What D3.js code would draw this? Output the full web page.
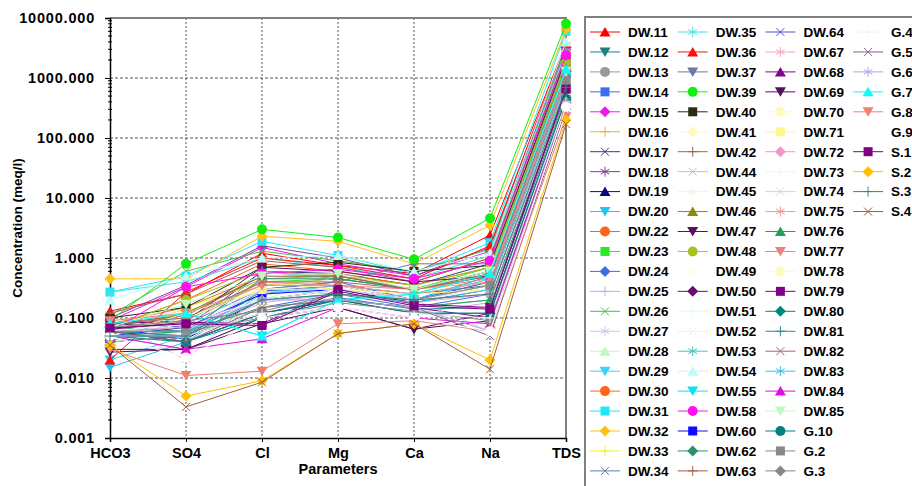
<!DOCTYPE html>
<html>
<head>
<meta charset="utf-8">
<script src="https://cdn.jsdelivr.net/npm/d3@7"></script>
<style>
body { margin: 0; background: #fff; }
text { font-family: "Liberation Sans", Arial, sans-serif; font-weight: bold; fill: #000; }
</style>
</head>
<body>
<div id="chart"></div>
<script>
var params = ["HCO3", "SO4", "Cl", "Mg", "Ca", "Na", "TDS"];

var names = ["DW.11","DW.12","DW.13","DW.14","DW.15","DW.16","DW.17","DW.18","DW.19","DW.20",
  "DW.22","DW.23","DW.24","DW.25","DW.26","DW.27","DW.28","DW.29","DW.30","DW.31",
  "DW.32","DW.33","DW.34","DW.35","DW.36","DW.37","DW.39","DW.40","DW.41","DW.42",
  "DW.44","DW.45","DW.46","DW.47","DW.48","DW.49","DW.50","DW.51","DW.52","DW.53",
  "DW.54","DW.55","DW.58","DW.60","DW.62","DW.63","DW.64","DW.67","DW.68","DW.69",
  "DW.70","DW.71","DW.72","DW.73","DW.74","DW.75","DW.76","DW.77","DW.78","DW.79",
  "DW.80","DW.81","DW.82","DW.83","DW.84","DW.85","G.10","G.2","G.3","G.4",
  "G.5","G.6","G.7","G.8","G.9","S.1","S.2","S.3","S.4"];

var colors = ["#ff0000","#1f7f7f","#999999","#3a6cf4","#e81ee8","#e8b048","#3a3a7a","#8a3a9a","#0a0a80","#1ec8f0",
  "#ff6418","#28e828","#3c6ee0","#c8a8e0","#48c048","#c8c8e8","#c0f8c0","#3cd4f4","#ff6418","#20e8f8",
  "#ffc018","#f0f040","#5a82a8","#48e0e0","#ff1010","#6878a8","#10f010","#2c2c10","#fff8c0","#a06454",
  "#c0c0c0","#f4f4dc","#8a8a10","#58105e","#a8c020","#fffff0","#64106a","#e0fafa","#e0f4f4","#40c4c4",
  "#c0fafa","#10e0f4","#ff10f0","#0a0aff","#2e9070","#a06048","#5050c8","#f0a8c8","#800090","#50105a",
  "#fff8c0","#fff888","#f098c8","#e4f8f8","#d0d0f0","#f09898","#20a060","#f08080","#fffac0","#800088",
  "#008880","#308888","#b06068","#40c0e8","#e010e0","#c0f8c0","#008080","#888888","#888888","#f0f4fc",
  "#886088","#a8a8e8","#10f8f8","#f08070","#ffffff","#800080","#ffc000","#408080","#a06040"];

// marker shapes repeat in this order through the series
var shapeCycle = ["triUp", "triDown", "circle", "square", "diamond", "plus", "times", "asterisk"];

// values in meq/l, one entry per series (same order as names)
var hco3 = [0.13,0.06,0.07,0.05,0.09,0.06,0.08,0.1,0.055,0.015,
  0.07,0.06,0.04,0.05,0.11,0.09,0.07,0.02,0.08,0.27,
  0.45,0.035,0.05,0.27,0.02,0.06,0.09,0.1,0.06,0.12,
  0.05,0.05,0.06,0.027,0.07,0.06,0.08,0.05,0.06,0.06,
  0.2,0.04,0.06,0.05,0.07,0.08,0.05,0.07,0.06,0.03,
  0.05,0.05,0.06,0.06,0.05,0.07,0.05,0.09,0.05,0.065,
  0.05,0.06,0.08,0.06,0.05,0.07,0.06,0.07,0.06,0.05,
  0.06,0.05,0.08,0.03,0.05,0.068,0.035,0.05,0.035];
var so4 = [0.25,0.06,0.12,0.08,0.33,0.1,0.07,0.35,0.045,0.04,
  0.2,0.09,0.05,0.03,0.6,0.02,0.14,0.05,0.15,0.5,
  0.45,0.15,0.04,0.4,0.27,0.1,0.8,0.15,0.07,0.25,
  0.06,0.05,0.12,0.03,0.2,0.1,0.09,0.08,0.09,0.05,
  0.5,0.12,0.33,0.07,0.06,0.11,0.05,0.05,0.04,0.03,
  0.1,0.12,0.07,0.08,0.06,0.08,0.06,0.12,0.04,0.085,
  0.04,0.05,0.1,0.06,0.03,0.17,0.04,0.09,0.06,0.05,
  0.04,0.05,0.12,0.011,0.022,0.08,0.005,0.05,0.0033];
var cl = [1.2,0.25,0.45,0.3,1.5,0.35,0.6,1.6,0.2,0.25,
  0.8,0.4,0.15,0.1,1.3,0.27,0.2,0.3,0.5,1.9,
  2.3,0.4,0.12,1.0,1.0,0.3,3.0,0.7,0.3,0.9,
  0.2,0.15,0.5,0.1,0.6,0.3,0.7,0.2,0.25,0.6,
  1.0,0.05,0.55,0.25,0.45,0.5,0.28,0.18,0.12,0.08,
  0.3,0.3,0.2,0.2,0.3,0.4,0.15,0.35,0.15,0.08,
  0.1,0.12,0.4,0.2,0.045,0.5,0.12,0.13,0.1,0.12,
  0.15,0.2,0.05,0.013,0.1,0.075,0.009,0.2,0.0085];
var mg = [0.75,0.35,0.5,0.4,0.8,0.45,0.55,1.0,0.3,0.35,
  0.6,0.45,0.25,0.2,0.9,0.3,0.5,0.25,0.55,1.1,
  1.9,0.3,0.2,0.7,0.75,0.4,2.2,0.85,0.3,0.7,
  0.25,0.2,0.5,0.15,0.5,0.3,0.6,0.25,0.3,0.45,
  1.1,0.2,0.65,0.3,0.45,0.5,0.35,0.25,0.2,0.15,
  0.35,0.3,0.3,0.3,0.3,0.35,0.2,0.35,0.2,0.3,
  0.2,0.22,0.4,0.25,0.15,0.55,0.2,0.25,0.18,0.15,
  0.2,0.2,0.2,0.08,0.15,0.28,0.055,0.25,0.055];
var ca = [0.55,0.25,0.3,0.2,0.5,0.3,0.35,0.5,0.18,0.2,
  0.4,0.3,0.15,0.12,0.6,0.2,0.3,0.2,0.35,0.55,
  0.8,0.2,0.15,0.45,0.45,0.8,0.95,0.6,0.25,0.4,
  0.2,0.15,0.3,0.065,0.35,0.2,0.4,0.2,0.2,0.3,
  0.6,0.25,0.45,0.2,0.3,0.3,0.2,0.18,0.15,0.065,
  0.2,0.25,0.2,0.2,0.2,0.25,0.15,0.3,0.15,0.17,
  0.12,0.14,0.3,0.18,0.1,0.3,0.12,0.2,0.13,0.12,
  0.15,0.15,0.25,0.09,0.1,0.16,0.08,0.2,0.08];
var na = [2.4,0.35,0.6,0.5,1.3,0.4,0.8,1.5,0.3,0.5,
  1.0,0.7,0.25,0.18,1.4,0.4,0.6,0.45,0.7,1.8,
  3.5,0.35,0.2,1.1,1.6,0.8,4.6,0.75,0.3,1.0,
  0.3,0.2,0.6,0.12,0.7,0.3,0.5,0.3,0.3,0.6,
  1.2,0.55,0.9,0.35,0.5,0.55,0.4,0.25,0.1,0.09,
  0.35,0.3,0.25,0.3,0.06,0.4,0.2,0.45,0.15,0.15,
  0.12,0.15,0.5,0.3,0.08,0.6,0.12,0.35,0.09,0.1,
  0.05,0.06,0.55,0.06,0.06,0.14,0.02,0.25,0.014];
var tds = [3800,900,1500,1100,3000,1000,1800,3500,700,1200,
  2500,1600,600,500,3200,900,1400,1000,1700,6000,
  6500,800,500,2800,3800,2000,8000,2200,800,2500,
  700,500,1500,400,1800,700,1300,600,700,1500,
  4000,1100,2400,900,1300,1400,1000,600,450,350,
  900,800,700,700,400,1000,550,1200,500,680,
  430,500,1300,800,350,1300,450,900,400,400,
  300,350,1400,224,330,650,200,700,170];

var yTicks = [0.001, 0.01, 0.1, 1, 10, 100, 1000, 10000];

var width = 912, height = 486;
var plotLeft = 110, plotRight = 566, plotTop = 18, plotBottom = 438;

var svg = d3.select("#chart").append("svg")
    .attr("width", width)
    .attr("height", height);

var x = d3.scalePoint().domain(params).range([plotLeft, plotRight]);
var y = d3.scaleLog().domain([0.001, 10000]).range([plotBottom, plotTop]);

var series = names.map(function(name, i) {
  return {
    name: name,
    color: colors[i],
    shape: shapeCycle[i % shapeCycle.length],
    values: [hco3[i], so4[i], cl[i], mg[i], ca[i], na[i], tds[i]]
  };
});

function markerPath(shape) {
  var p = d3.path();
  if (shape === "triUp") { p.moveTo(0, -5); p.lineTo(5.5, 4.5); p.lineTo(-5.5, 4.5); p.closePath(); }
  else if (shape === "triDown") { p.moveTo(0, 5); p.lineTo(5.5, -4.5); p.lineTo(-5.5, -4.5); p.closePath(); }
  else if (shape === "circle") { p.arc(0, 0, 5, 0, 2 * Math.PI); }
  else if (shape === "square") { p.rect(-4.5, -4.5, 9, 9); }
  else if (shape === "diamond") { p.moveTo(0, -5.5); p.lineTo(5.5, 0); p.lineTo(0, 5.5); p.lineTo(-5.5, 0); p.closePath(); }
  else if (shape === "plus") { p.moveTo(-5, 0); p.lineTo(5, 0); p.moveTo(0, -5); p.lineTo(0, 5); }
  else if (shape === "times") { p.moveTo(-4, -4); p.lineTo(4, 4); p.moveTo(-4, 4); p.lineTo(4, -4); }
  else { // asterisk
    p.moveTo(0, -5); p.lineTo(0, 5);
    p.moveTo(-4.3, -2.5); p.lineTo(4.3, 2.5);
    p.moveTo(-4.3, 2.5); p.lineTo(4.3, -2.5);
  }
  return p.toString();
}
function isStroke(shape) {
  return shape === "plus" || shape === "times" || shape === "asterisk";
}

// grid
svg.append("g")
    .selectAll("line")
    .data(yTicks.slice(1, -1))
    .enter().append("line")
    .attr("x1", plotLeft).attr("x2", plotRight)
    .attr("y1", function(d) { return y(d); })
    .attr("y2", function(d) { return y(d); })
    .attr("stroke", "#555").attr("stroke-width", 1)
    .attr("stroke-dasharray", "3,2");

svg.append("g")
    .selectAll("line")
    .data(params.slice(1, -1))
    .enter().append("line")
    .attr("x1", function(d) { return x(d); })
    .attr("x2", function(d) { return x(d); })
    .attr("y1", plotTop).attr("y2", plotBottom)
    .attr("stroke", "#555").attr("stroke-width", 1)
    .attr("stroke-dasharray", "2,2");

// frame (top and right)
svg.append("path")
    .attr("d", "M" + plotLeft + "," + plotTop + "H" + plotRight + "V" + plotBottom)
    .attr("fill", "none")
    .attr("stroke", "#808080")
    .attr("stroke-width", 2);

// y axis
var yAxis = svg.append("g")
    .attr("transform", "translate(" + plotLeft + ",0)")
    .call(d3.axisLeft(y).tickValues(yTicks).tickFormat(d3.format(".3f")).tickSize(5).tickPadding(10));
yAxis.select(".domain").attr("stroke", "#000").attr("stroke-width", 1.5);
yAxis.selectAll("text")
    .style("font-size", "14.5px")
    .style("letter-spacing", "0.8px")
    .attr("font-family", null);

// minor log ticks
var minor = [];
yTicks.slice(0, -1).forEach(function(t) {
  for (var k = 2; k <= 9; k++) minor.push(t * k);
});
svg.append("g")
    .selectAll("line")
    .data(minor)
    .enter().append("line")
    .attr("x1", plotLeft - 2).attr("x2", plotLeft + 2)
    .attr("y1", function(d) { return y(d); })
    .attr("y2", function(d) { return y(d); })
    .attr("stroke", "#000").attr("stroke-width", 1);

// x axis
var xAxis = svg.append("g")
    .attr("transform", "translate(0," + plotBottom + ")")
    .call(d3.axisBottom(x).tickSize(4).tickPadding(6));
xAxis.select(".domain").attr("stroke", "#000").attr("stroke-width", 1.5);
xAxis.selectAll("text").style("font-size", "14.5px").attr("font-family", null);

svg.append("text")
    .attr("x", x("Mg"))
    .attr("y", 474)
    .attr("text-anchor", "middle")
    .style("font-size", "14.5px")
    .text("Parameters");

svg.append("text")
    .attr("transform", "translate(22,228) rotate(-90)")
    .attr("text-anchor", "middle")
    .style("font-size", "13.5px")
    .text("Concentration (meq/l)");

// series
var line = d3.line()
    .x(function(d, j) { return x(params[j]); })
    .y(function(d) { return y(d); });

var g = svg.append("g")
    .selectAll("g")
    .data(series)
    .enter().append("g");

g.append("path")
    .attr("d", function(d) { return line(d.values); })
    .attr("fill", "none")
    .attr("stroke", function(d) { return d.color; })
    .attr("stroke-width", 1);

g.each(function(s) {
  d3.select(this).selectAll(".m")
      .data(s.values)
      .enter().append("path")
      .attr("class", "m")
      .attr("transform", function(v, j) { return "translate(" + x(params[j]) + "," + y(v) + ")"; })
      .attr("d", markerPath(s.shape))
      .attr("fill", isStroke(s.shape) ? "none" : s.color)
      .attr("stroke", isStroke(s.shape) ? s.color : "none")
      .attr("stroke-width", 1);
});

// legend
var legend = svg.append("g");
legend.append("rect")
    .attr("x", 585).attr("y", 17)
    .attr("width", 360).attr("height", 500)
    .attr("fill", "#fff")
    .attr("stroke", "#808080")
    .attr("stroke-width", 2);

var perCol = 23;
var item = legend.selectAll(".item")
    .data(series)
    .enter().append("g")
    .attr("class", "item")
    .attr("transform", function(d, i) {
      var col = Math.floor(i / perCol), row = i % perCol;
      return "translate(" + (605 + col * 87.7) + "," + (32 + row * 19.95) + ")";
    });

item.append("line")
    .attr("x1", -15).attr("x2", 15)
    .attr("stroke", function(d) { return d.color; })
    .attr("stroke-width", 1);

item.append("path")
    .attr("d", function(d) { return markerPath(d.shape); })
    .attr("fill", function(d) { return isStroke(d.shape) ? "none" : d.color; })
    .attr("stroke", function(d) { return isStroke(d.shape) ? d.color : "none"; })
    .attr("stroke-width", 1);

item.append("text")
    .attr("x", 23)
    .attr("dy", "0.36em")
    .style("font-size", "13.5px")
    .text(function(d) { return d.name; });
</script>
</body>
</html>
